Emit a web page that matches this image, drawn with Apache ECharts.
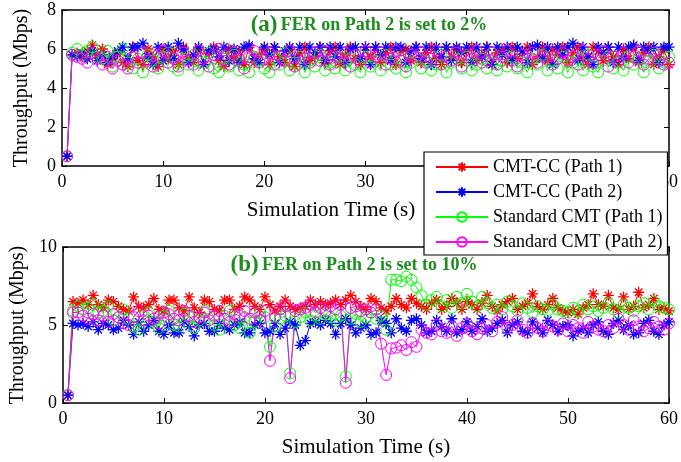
<!DOCTYPE html>
<html><head><meta charset="utf-8">
<script src="https://cdn.jsdelivr.net/npm/echarts@6/dist/echarts.min.js"></script>
<style>html,body{margin:0;padding:0;background:#fff}#c{width:681px;height:462px}</style>
</head><body><div id="c"></div>
<script>
const sampleTimes = [0.5,1,1.5,2,2.5,3,3.5,4,4.5,5, 5.5,6,6.5,7,7.5,8,8.5,9,9.5,10,
 10.5,11,11.5,12,12.5,13,13.5,14,14.5,15, 15.5,16,16.5,17,17.5,18,18.5,19,19.5,20,
 20.5,21,21.5,22,22.5,23,23.5,24,24.5,25, 25.5,26,26.5,27,27.5,28,28.5,29,29.5,30,
 30.5,31,31.5,32,32.5,33,33.5,34,34.5,35, 35.5,36,36.5,37,37.5,38,38.5,39,39.5,40,
 40.5,41,41.5,42,42.5,43,43.5,44,44.5,45, 45.5,46,46.5,47,47.5,48,48.5,49,49.5,50,
 50.5,51,51.5,52,52.5,53,53.5,54,54.5,55, 55.5,56,56.5,57,57.5,58,58.5,59,59.5,60];

const seriesNames = ['CMT-CC (Path 1)','CMT-CC (Path 2)','Standard CMT (Path 1)','Standard CMT (Path 2)'];

// (a) FER on Path 2 = 2%
const ccPath1A = [0.5,5.7,5.8,5.6,5.9,6.2,5.7,6.0,5.2,5.5, 5.8,5.3,5.1,6.1,5.4,5.2,6.0,5.6,5.1,6.0,
 5.5,5.9,5.2,6.1,5.6,5.3,6.0,5.2,5.8,6.1, 5.4,5.1,6.0,5.5,5.9,5.2,6.1,5.3,5.7,6.0,
 5.2,6.1,5.6,5.3,6.0,5.1,5.8,6.1,5.4,5.6, 6.1,5.3,5.9,6.1,5.2,5.7,6.1,5.5,5.2,6.1,
 5.6,6.1,5.3,5.8,6.1,5.2,5.9,6.0,5.4,6.1, 5.3,5.8,6.1,5.5,5.2,6.1,5.6,6.0,5.3,5.9,
 6.1,5.4,5.7,6.1,5.2,5.8,6.0,5.3,6.1,5.5, 5.9,6.1,5.2,5.6,6.1,5.4,6.0,5.7,6.1,5.3,
 5.8,6.1,5.5,5.2,6.1,5.9,5.4,6.1,5.6,5.2, 6.0,5.5,6.1,5.3,5.8,6.1,5.2,5.6,6.0,5.2];
const ccPath2A = [0.5,5.7,5.6,5.8,5.5,5.9,5.4,5.7,5.3,5.6, 5.9,6.1,5.5,6.1,6.1,6.3,5.6,5.2,6.1,5.4,
 6.1,5.5,6.3,6.0,5.3,5.7,6.1,5.2,5.9,6.0, 5.6,6.1,5.4,6.0,5.3,6.1,6.2,5.5,5.3,6.1,
 5.7,6.1,5.3,5.9,6.1,5.5,6.1,5.2,6.1,5.8, 6.1,5.4,6.1,5.6,6.1,5.3,6.0,6.1,5.5,6.1,
 5.2,6.1,5.7,6.1,5.4,6.1,6.1,5.3,5.9,6.1, 5.5,6.1,5.2,6.1,5.6,6.1,5.4,6.1,5.8,6.1,
 5.3,6.1,5.6,6.1,5.2,6.1,5.7,6.1,5.4,6.1, 5.9,5.3,6.1,6.2,5.5,6.1,5.2,6.1,5.7,6.1,
 6.3,5.4,6.1,5.6,5.2,6.1,5.8,6.1,5.3,6.1, 5.5,6.1,6.2,5.4,6.1,5.9,6.1,5.3,6.1,6.1];
const stdPath1A = [0.5,5.8,6.0,5.7,5.9,6.1,5.6,5.5,5.9,5.1, 5.6,6.0,5.3,5.0,5.5,4.8,5.7,5.4,5.0,5.6,
 5.8,5.1,4.9,5.5,5.2,5.7,4.9,5.3,5.8,5.0, 4.8,5.5,5.1,5.7,4.9,5.2,4.8,5.6,5.4,5.0,
 4.8,5.5,5.2,5.8,4.9,5.3,5.6,4.8,5.4,5.1, 5.7,4.9,5.3,5.0,5.6,4.9,5.5,5.2,4.8,5.6,
 5.1,5.4,4.9,5.7,5.2,5.0,5.5,4.8,5.3,5.6, 5.0,5.4,4.9,5.2,5.7,4.8,5.3,5.5,5.0,5.6,
 4.9,5.2,5.5,5.0,5.8,4.9,5.4,5.1,5.6,5.0, 5.3,4.8,5.5,5.2,5.7,4.9,5.4,5.0,5.6,4.8,
 5.3,5.5,4.9,5.7,5.1,4.8,5.4,5.6,5.0,5.3, 4.9,5.6,5.2,5.5,4.8,5.4,5.7,5.0,5.3,5.6];
const stdPath2A = [0.5,5.7,5.6,5.5,5.3,5.8,5.5,5.2,5.6,5.0, 5.4,5.2,5.0,5.6,5.3,5.8,5.4,5.1,5.7,5.9,
 5.3,5.5,5.1,5.8,5.4,5.2,5.9,5.5,5.1,5.7, 6.0,5.4,5.2,5.8,5.5,5.0,5.6,5.9,5.3,5.5,
 5.8,5.2,5.6,5.4,5.9,5.1,5.7,5.5,5.3,5.8, 5.4,5.9,5.2,5.6,5.5,5.8,5.1,5.7,5.4,5.9,
 5.3,5.6,5.8,5.2,5.5,5.9,5.4,5.1,5.7,5.6, 5.8,5.3,5.5,5.9,5.2,5.6,5.4,5.8,5.1,5.7,
 5.5,5.9,5.3,5.4,5.8,5.2,5.6,5.9,5.4,5.1, 5.7,5.5,5.8,5.3,5.6,5.9,5.2,5.5,5.8,5.4,
 5.6,5.2,5.9,5.5,5.3,5.7,5.9,5.1,5.6,5.4, 5.8,5.3,5.6,5.9,5.2,5.5,5.8,5.4,5.2,5.3];

// (b) FER on Path 2 = 10%
const ccPath1B = [0.5,6.5,6.4,6.6,6.3,6.9,6.3,6.1,6.6,6.5, 6.2,6.0,5.9,6.8,6.2,6.1,6.3,6.7,6.0,5.9,
 6.6,6.6,6.1,5.9,6.8,6.1,5.8,6.6,6.5,6.0, 5.9,6.6,6.6,6.0,6.2,6.8,6.6,6.2,6.0,6.8,
 6.3,5.9,6.2,6.6,6.2,6.0,6.1,6.2,6.6,6.3, 6.5,6.3,6.4,6.6,6.3,6.6,6.9,6.5,6.2,6.0,
 6.7,6.5,6.1,5.9,6.2,6.7,6.3,6.1,6.7,6.4, 6.2,6.0,6.4,6.6,6.0,6.2,6.7,6.4,6.0,6.5,
 6.3,6.0,6.4,6.9,6.2,5.9,6.3,6.5,6.7,6.0, 6.2,6.4,7.0,6.2,6.0,6.3,6.7,6.1,5.9,5.8,
 6.0,5.7,6.1,6.3,7.0,6.3,6.2,6.9,6.1,6.0, 6.8,6.0,6.2,7.1,6.1,6.3,6.7,6.0,6.1,5.9];
const ccPath2B = [0.5,5.1,5.0,5.1,4.9,5.2,4.7,5.1,5.0,4.7, 4.8,5.3,5.0,4.4,5.2,4.6,5.0,5.3,4.6,4.4,
 5.0,4.5,4.5,5.2,4.9,4.3,5.0,5.1,4.6,4.6, 5.1,4.8,4.7,5.0,5.2,4.5,4.5,5.0,5.1,4.5,
 4.6,5.1,4.4,4.8,5.2,5.0,3.7,4.0,5.1,5.2, 5.0,5.3,5.1,4.4,5.1,5.4,5.0,4.5,4.8,5.0,
 4.4,4.5,5.3,5.1,4.5,5.4,4.8,4.6,5.3,5.4, 5.0,4.5,4.6,5.3,4.9,4.6,5.4,4.5,4.7,5.2,
 4.6,4.9,5.4,4.6,4.8,5.1,5.3,4.5,5.0,5.2, 4.6,4.5,5.2,4.8,4.5,5.3,5.0,4.6,4.9,5.0,
 4.3,4.6,4.8,4.5,5.0,5.2,4.6,4.4,5.1,5.3, 4.7,5.0,4.4,4.5,5.1,5.3,4.6,4.4,5.0,5.2];
const stdPath1B = [0.5,5.9,6.2,6.0,6.1,6.3,5.8,5.9,6.2,5.3, 5.5,6.0,5.4,4.9,4.7,5.5,5.8,5.2,4.8,5.6,
 5.9,5.0,4.9,5.7,5.5,4.8,5.3,5.9,5.4,5.0, 4.7,5.6,5.9,5.0,4.8,5.5,4.5,5.2,5.8,5.5,
 3.6,4.9,5.4,5.6,1.9,5.2,5.5,5.8,5.3,5.6, 5.4,5.7,5.5,5.3,5.6,1.7,5.4,5.7,5.2,5.5,
 5.8,5.4,5.6,4.7,7.9,7.9,7.8,8.1,7.9,7.4, 6.9,6.3,6.6,6.8,6.2,6.6,6.1,6.8,6.4,7.0,
 6.5,6.2,6.8,6.4,6.1,6.3,6.0,6.5,6.2,5.9, 6.4,6.1,5.8,6.2,6.0,5.9,6.3,6.0,5.9,5.8,
 6.1,5.9,6.3,6.0,6.2,5.9,6.1,6.4,6.0,5.8, 6.3,6.1,5.9,6.2,6.4,6.0,6.5,6.2,6.1,6.0];
const stdPath2B = [0.5,5.8,5.8,5.6,5.4,5.7,5.3,5.6,5.2,5.7, 5.5,5.1,5.0,5.5,5.9,5.3,5.6,5.4,5.1,5.8,
 5.7,5.4,5.3,5.9,5.6,5.2,5.5,5.8,5.3,5.6, 5.9,5.4,5.2,5.7,5.6,5.9,5.4,5.8,5.3,5.9,
 2.7,5.5,6.0,6.2,1.6,5.9,6.0,6.1,6.3,5.8, 6.1,5.9,6.2,6.0,6.3,1.3,6.1,6.2,5.9,6.0,
 5.8,6.0,3.8,1.8,3.5,3.55,3.7,3.4,3.9,3.6, 4.7,4.5,4.4,5.0,4.6,4.5,4.9,4.3,4.8,5.1,
 4.6,4.4,4.8,5.0,4.6,5.2,5.5,4.8,5.0,5.3, 4.7,4.5,5.1,4.8,4.6,5.0,4.9,4.7,5.1,4.6,
 5.0,4.8,4.5,5.2,4.9,4.7,4.6,5.0,4.8,5.4, 5.0,4.7,5.3,4.9,4.6,4.8,5.2,4.9,4.7,5.1];

const FONT = '"Liberation Serif","Times New Roman",serif';
const GREEN_TXT = '#1e8c1e';
const STAR = 'path://M5,0L5,10M0,5L10,5M1.6,1.6L8.4,8.4M1.6,8.4L8.4,1.6';
const colors = ['#ff0000','#0000ff','#00ff00','#ff00ff'];
const symbols = [STAR, STAR, 'circle', 'circle'];

function mk(idx, values, axis) {
  const color = colors[idx];
  const isCircle = symbols[idx] === 'circle';
  return {
    name: seriesNames[idx], type: 'line', xAxisIndex: axis, yAxisIndex: axis,
    data: sampleTimes.map((t, i) => [t, values[i]]),
    symbol: symbols[idx], symbolSize: isCircle ? 11 : 11, showSymbol: true,
    lineStyle: { color: color, width: 1 },
    itemStyle: { color: isCircle ? 'rgba(0,0,0,0)' : color, borderColor: color, borderWidth: isCircle ? 1 : 1.3 },
    emphasis: { disabled: true }, animation: false
  };
}

function xAx(grid, pos, labels) {
  return {
    type: 'value', gridIndex: grid, position: pos, min: 0, max: 60, interval: 10,
    axisLine: { show: true, onZero: false, lineStyle: { color: '#000', width: 1.5 } },
    axisTick: { show: true, inside: true, length: 5, lineStyle: { color: '#000' } },
    axisLabel: { show: labels, color: '#000', fontFamily: FONT, fontSize: 18, margin: 7 },
    splitLine: { show: false }
  };
}
function yAx(grid, pos, max, interval, labels) {
  return {
    type: 'value', gridIndex: grid, position: pos, min: 0, max: max, interval: interval,
    axisLine: { show: true, onZero: false, lineStyle: { color: '#000', width: 1.5 } },
    axisTick: { show: true, inside: true, length: 5, lineStyle: { color: '#000' } },
    axisLabel: { show: labels, color: '#000', fontFamily: FONT, fontSize: 18, margin: 6 },
    splitLine: { show: false },
    name: labels ? 'Throughput (Mbps)' : '', nameLocation: 'middle', nameGap: 30, nameRotate: 90,
    nameTextStyle: { color: '#000', fontFamily: FONT, fontSize: 20 }
  };
}

const xAxes = [xAx(0, 'bottom', true), xAx(0, 'top', false), xAx(1, 'bottom', true), xAx(1, 'top', false)];
xAxes[2].name = 'Simulation Time (s)';
xAxes[2].nameLocation = 'middle';
xAxes[2].nameGap = 34;
xAxes[2].nameTextStyle = { color: '#000', fontFamily: FONT, fontSize: 21 };

const option = {
  backgroundColor: '#fff',
  animation: false,
  grid: [
    { left: 62, right: 7, top: 10, height: 156 },
    { left: 62, right: 7, top: 247, height: 156 }
  ],
  xAxis: xAxes,
  yAxis: [yAx(0, 'left', 8, 2, true), yAx(0, 'right', 8, 2, false), yAx(1, 'left', 10, 5, true), yAx(1, 'right', 10, 5, false)],
  legend: {
    data: seriesNames, orient: 'vertical', left: 424, top: 152, width: 244,
    backgroundColor: '#fff', borderColor: '#000', borderWidth: 1.2, borderRadius: 0,
    padding: [5, 5, 3, 11], itemWidth: 52, itemHeight: 12, itemGap: 5,
    textStyle: { color: '#000', fontFamily: FONT, fontSize: 18, lineHeight: 20 },
    selectedMode: false, z: 10
  },
  graphic: [
    { type: 'text', x: 331, y: 210, z: 5,
      style: { text: 'Simulation Time (s)', fill: '#000', font: '21px ' + FONT, textAlign: 'center', textVerticalAlign: 'middle' } },
    { type: 'text', x: 369, y: 25, z: 5,
      style: { text: '{a|(a)} {b|FER on Path 2 is set to 2%}', textAlign: 'center', textVerticalAlign: 'middle',
        rich: { a: { fontSize: 23, fontWeight: 'bold', fontFamily: FONT, fill: GREEN_TXT },
                b: { fontSize: 18, fontWeight: 'bold', fontFamily: FONT, fill: GREEN_TXT } } } },
    { type: 'text', x: 354, y: 265, z: 5,
      style: { text: '{a|(b)} {b|FER on Path 2 is set to 10%}', textAlign: 'center', textVerticalAlign: 'middle',
        rich: { a: { fontSize: 23, fontWeight: 'bold', fontFamily: FONT, fill: GREEN_TXT },
                b: { fontSize: 18, fontWeight: 'bold', fontFamily: FONT, fill: GREEN_TXT } } } }
  ],
  series: [
    mk(0, ccPath1A, 0), mk(1, ccPath2A, 0), mk(2, stdPath1A, 0), mk(3, stdPath2A, 0),
    mk(0, ccPath1B, 2), mk(1, ccPath2B, 2), mk(2, stdPath1B, 2), mk(3, stdPath2B, 2)
  ]
};
const chart = echarts.init(document.getElementById('c'), null, { renderer: 'canvas' });
chart.setOption(option);
</script></body></html>
